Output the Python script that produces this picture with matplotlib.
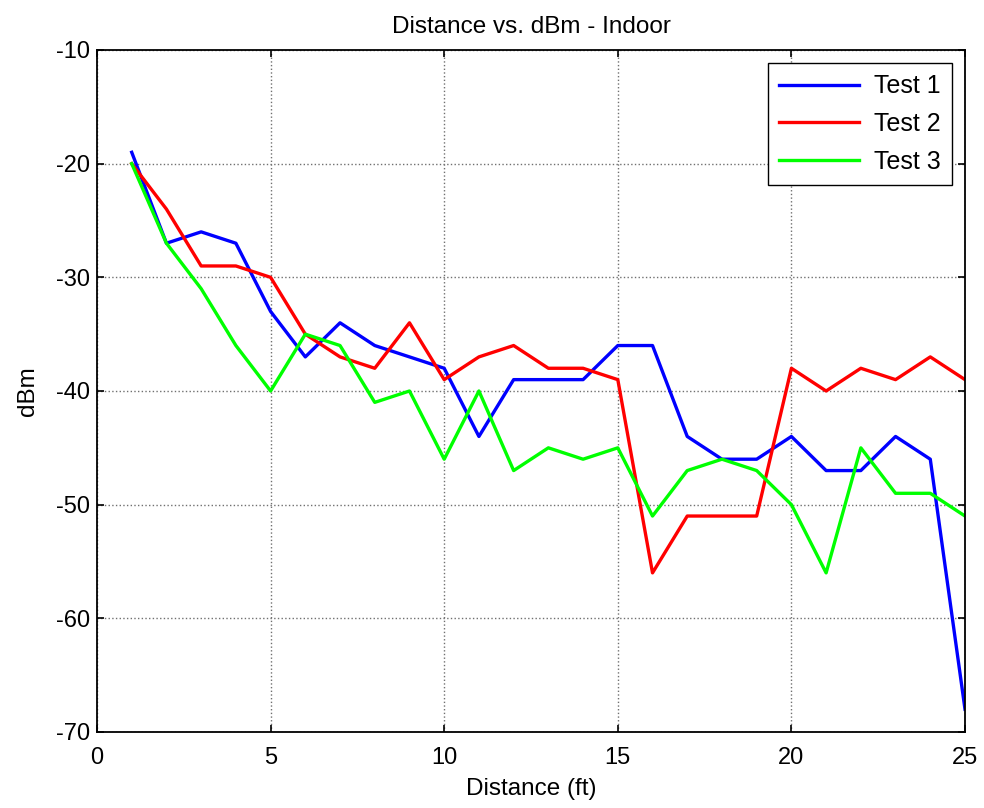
import matplotlib
matplotlib.use("Agg")
import matplotlib.pyplot as plt

plt.rcParams['font.family'] = ['Liberation Sans', 'DejaVu Sans']
plt.rcParams['axes.unicode_minus'] = False

distance = list(range(1, 26))
test1 = [-19, -27, -26, -27, -33, -37, -34, -36, -37, -38, -44, -39, -39, -39, -36,
         -36, -44, -46, -46, -44, -47, -47, -44, -46, -68]
test2 = [-20, -24, -29, -29, -30, -35, -37, -38, -34, -39, -37, -36, -38, -38, -39,
         -56, -51, -51, -51, -38, -40, -38, -39, -37, -39]
test3 = [-20, -27, -31, -36, -40, -35, -36, -41, -40, -46, -40, -47, -45, -46, -45,
         -51, -47, -46, -47, -50, -56, -45, -49, -49, -51]

fig = plt.figure(figsize=(9.84, 8.08), dpi=100)
ax = fig.add_axes([97 / 984, 1 - 732 / 808, (965 - 97) / 984, (732 - 50) / 808])

ax.plot(distance, test1, color="#0000ff", lw=2.4, label="Test 1")
ax.plot(distance, test2, color="#ff0000", lw=2.4, label="Test 2")
ax.plot(distance, test3, color="#00ff00", lw=2.4, label="Test 3")

ax.set_xlim(0, 25)
ax.set_ylim(-70, -10)
ax.set_xticks(range(0, 26, 5))
ax.set_yticks(range(-70, -9, 10))
ax.grid(True, color="#707070", linestyle=":", linewidth=1.0)
ax.tick_params(direction="in", top=True, right=True, labelsize=17, length=5, width=1.2)
ax.tick_params(axis="x", pad=11)
ax.tick_params(axis="y", pad=5)
for s in ax.spines.values():
    s.set_linewidth(1.3)

ax.set_title("Distance vs. dBm - Indoor", fontsize=17.5, pad=12)
ax.set_xlabel("Distance (ft)", fontsize=17.5, labelpad=6)
ax.set_ylabel("dBm", fontsize=17.5, labelpad=12)

leg = ax.legend(loc="upper right", fontsize=18, fancybox=False, framealpha=1,
                edgecolor="black", handlelength=3.2, handletextpad=0.6,
                borderpad=0.45, labelspacing=0.55, borderaxespad=0,
                bbox_to_anchor=(0.985, 0.9809))
leg.get_frame().set_linewidth(1.0)

fig.savefig("out.png", dpi=100)
